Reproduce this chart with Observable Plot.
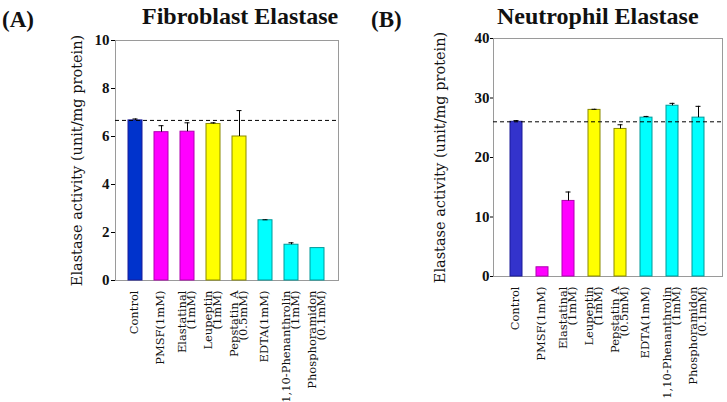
<!DOCTYPE html>
<html><head><meta charset="utf-8">
<script src="https://cdn.jsdelivr.net/npm/d3@7"></script>
<script src="https://cdn.jsdelivr.net/npm/@observablehq/plot@0.6"></script>
<style>
body{margin:0;background:#fff;font-family:"Liberation Serif",serif;}
#wrap{position:relative;width:727px;height:402px;overflow:hidden;}
.panel{position:absolute;top:0;}
.lab{position:absolute;font-family:"Liberation Serif",serif;font-weight:bold;color:#111;white-space:nowrap;line-height:1;}
</style></head>
<body><div id="wrap"></div>
<script>
const categories = ["Control","PMSF(1mM)","Elastatinal\n(1mM)","Leupeptin\n(1mM)","Pepstatin A\n(0.5mM)","EDTA(1mM)","1,10-Phenanthrolin\n(1mM)","Phosphoramidon\n(0.1mM)"];
const groups = ["control","serine","serine","cysteine","aspartic","metallo","metallo","metallo"];
const fibroValues = [6.67, 6.18, 6.2, 6.52, 6.0, 2.51, 1.49, 1.35];
const fibroErrors = [0.06, 0.27, 0.37, 0.05, 1.08, 0.02, 0.08, 0.0];
const fibroControl = 6.67;
const fibroTicks = [0, 2, 4, 6, 8, 10];
const neutroValues = [26.0, 1.55, 12.7, 28.0, 24.8, 26.7, 28.7, 26.7];
const neutroErrors = [0.2, 0.0, 1.5, 0.1, 0.7, 0.2, 0.4, 1.9];
const neutroControl = 26.0;
const neutroTicks = [0, 10, 20, 30, 40];
const yLabel = "Elastase activity (unit/mg protein)";

const fillA = {control:"#0033cc",serine:"#ff00ff",cysteine:"#ffff00",aspartic:"#ffff00",metallo:"#00ffff"};
const fillB = {control:"#3333cc",serine:"#ff00ff",cysteine:"#ffff00",aspartic:"#ffff00",metallo:"#00ffff"};
const strokeC = {control:"#1a1a99",serine:"#b000b0",cysteine:"#8a8a00",aspartic:"#8a8a00",metallo:"#009999"};
const SERIF = "Liberation Serif, serif";
const WIDE = "DejaVu Serif, serif";

function panel(values, errors, ctrl, ticks, fills, opt){
  const data = categories.map((c,i)=>({c, v:values[i], e:errors[i], g:groups[i]}));
  const yMax = ticks[ticks.length-1];
  return Plot.plot({
    width: opt.width, height: 402,
    marginLeft: opt.ml, marginRight: opt.mr, marginTop: opt.mt, marginBottom: opt.mb,
    style:{fontFamily:SERIF, background:"#fff"},
    x:{domain:categories, padding:opt.pad, axis:null},
    y:{domain:[0,yMax], axis:null},
    marks:[
      Plot.frame({stroke:"#9a9a9a"}),
      Plot.ruleX([0],{frameAnchor:"left", stroke:"#555"}),
      Plot.barY(data,{x:"c", y:"v", fill:d=>fills[d.g], stroke:d=>strokeC[d.g], strokeWidth:1}),
      Plot.ruleX(data.filter(d=>d.e>0),{x:"c", y1:"v", y2:d=>d.v+d.e, stroke:"#000", strokeWidth:1}),
      Plot.tickY(data.filter(d=>d.e>0),{x:"c", y:d=>d.v+d.e, stroke:"#000", strokeWidth:1, insetLeft:opt.cap, insetRight:opt.cap}),
      Plot.ruleY([ctrl],{stroke:"#000", strokeDasharray:"4,3", strokeWidth:1}),
      Plot.axisY({ticks, tickSize:opt.ts, tickPadding:opt.tp, fontSize:15, fontWeight:"bold", fontFamily:SERIF, label:null, fill:"#111"}),
      Plot.text(categories,{x:d=>d, frameAnchor:"bottom", dy:10, rotate:-90, textAnchor:"end", lineAnchor:"middle", fontSize:11.5, fontFamily:WIDE, fill:"#111", lineHeight:0.8}),
      Plot.text([yLabel],{frameAnchor:"left", dx:opt.ldx, rotate:-90, textAnchor:"middle", lineAnchor:"middle", fontSize:14.5, fontFamily:WIDE, fill:"#111"})
    ]
  });
}

const wrap = document.getElementById("wrap");
const a = panel(fibroValues, fibroErrors, fibroControl, fibroTicks, fillA, {width:363, ml:115, mr:25, mt:40, mb:122, pad:0.45, cap:4.5, ts:4, tp:2, ldx:-38});
const b = panel(neutroValues, neutroErrors, neutroControl, neutroTicks, fillB, {width:364, ml:130, mr:5, mt:38, mb:126, pad:0.52, cap:3.5, ts:3, tp:1, ldx:-53});
const da = document.createElement("div"); da.className="panel"; da.style.left="0px"; da.appendChild(a); wrap.appendChild(da);
const db = document.createElement("div"); db.className="panel"; db.style.left="363px"; db.appendChild(b); wrap.appendChild(db);
function lab(t,x,y,fs){const d=document.createElement("div");d.className="lab";d.textContent=t;d.style.left=x+"px";d.style.top=y+"px";d.style.fontSize=fs+"px";wrap.appendChild(d);}
lab("(A)",2,8,23);
lab("Fibroblast Elastase",142,4,24);
lab("(B)",371,8,23);
lab("Neutrophil Elastase",497,4,24);
</script></body></html>
